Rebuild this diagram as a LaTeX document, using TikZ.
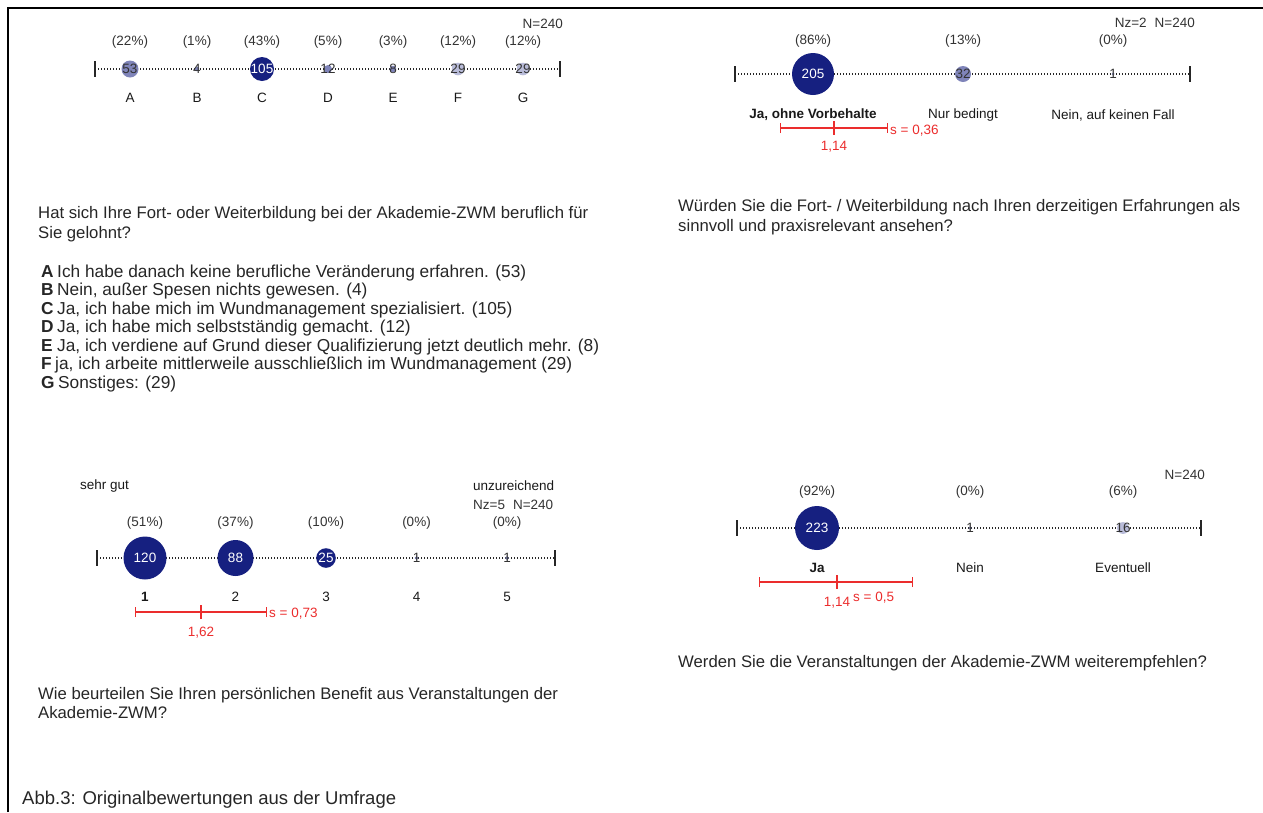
\documentclass[tikz,border=0pt]{standalone}
\usepackage{fontspec}
\setmainfont{Liberation Sans}
\usetikzlibrary{arrows.meta}
\definecolor{dotblue}{RGB}{22,32,128}
\definecolor{sdred}{RGB}{235,45,45}
\tikzset{
  chart/.style={font=\fontsize{13.5}{16}\selectfont,text=black!80,inner sep=0pt},
  catlabel/.style={chart,text=black!90},
  scaleaxis/.style={draw=black!85,line width=1.3pt,dash pattern=on 1.4pt off 1.6pt},
  axistick/.style={draw=black!85,line width=1.8pt},
  bigdot/.style={fill=dotblue},
  smalldot/.style={fill=dotblue!55},
  faintdot/.style={fill=dotblue!30},
  numw/.style={chart,text=white},
  numk/.style={chart,text=black!80},
  sdbar/.style={draw=sdred,line width=1.2pt,{Bar[width=10pt]}-{Bar[width=10pt]}},
  sdtext/.style={chart,text=sdred},
  txt/.style={font=\fontsize{16.7}{20}\selectfont,anchor=base west,inner sep=0pt,text=black!85},
  listtxt/.style={txt,font=\fontsize{17.3}{20}\selectfont}
}
\begin{document}
\begin{tikzpicture}[x=1pt,y=-1pt]
\useasboundingbox (0,0) rectangle (1263,812);
\draw[line width=2pt](8,812)--(8,8)--(1263,8);

% Frage: beruflich gelohnt
\coordinate (tlL) at (95,69);
\coordinate (tlR) at (560,69);
\draw[scaleaxis](tlL)--(tlR);
\draw[axistick]([yshift=8pt]tlL)--([yshift=-8pt]tlL);
\draw[axistick]([yshift=8pt]tlR)--([yshift=-8pt]tlR);
\fill[smalldot](130,69)circle[radius=8.5];
\fill[smalldot](197,69)circle[radius=2.3];
\fill[bigdot](262,69)circle[radius=12];
\fill[smalldot](328,69)circle[radius=4];
\fill[smalldot](393,69)circle[radius=3.3];
\fill[faintdot](458,69)circle[radius=6.3];
\fill[faintdot](523,69)circle[radius=6.3];
\node[numk](tlA)at(130,69){53};
\node[numk](tlB)at(197,69){4};
\node[numw](tlC)at(262,69){105};
\node[numk](tlD)at(328,69){12};
\node[numk](tlE)at(393,69){8};
\node[numk](tlF)at(458,69){29};
\node[numk](tlG)at(523,69){29};
\node[chart](tlpA)at(130,42){(22\%)};
\node[chart](tlpB)at(197,42){(1\%)};
\node[chart](tlpC)at(262,42){(43\%)};
\node[chart](tlpD)at(328,42){(5\%)};
\node[chart](tlpE)at(393,42){(3\%)};
\node[chart](tlpF)at(458,42){(12\%)};
\node[chart](tlpG)at(523,42){(12\%)};
\node[catlabel](tllA)at(130,98){A};
\node[catlabel](tllB)at(197,98){B};
\node[catlabel](tllC)at(262,98){C};
\node[catlabel](tllD)at(328,98){D};
\node[catlabel](tllE)at(393,98){E};
\node[catlabel](tllF)at(458,98){F};
\node[catlabel](tllG)at(523,98){G};
\node[chart,anchor=east](tlN)at(563,24){N=240};
\node[txt](tlq1)at(38,218){Hat sich Ihre Fort- oder Weiterbildung bei der Akademie-ZWM beruflich für};
\node[txt](tlq2)at(38,238){Sie gelohnt?};
\node[listtxt](tlia)at(41,277){\makebox[16pt][l]{\textbf{A}}Ich habe danach keine berufliche Veränderung erfahren. (53)};
\node[listtxt](tlib)at(41,295.5){\makebox[16pt][l]{\textbf{B}}Nein, außer Spesen nichts gewesen. (4)};
\node[listtxt](tlic)at(41,314){\makebox[16pt][l]{\textbf{C}}Ja, ich habe mich im Wundmanagement spezialisiert. (105)};
\node[listtxt](tlid)at(41,332.5){\makebox[16pt][l]{\textbf{D}}Ja, ich habe mich selbstständig gemacht. (12)};
\node[listtxt](tlie)at(41,351){\makebox[16pt][l]{\textbf{E}}Ja, ich verdiene auf Grund dieser Qualifizierung jetzt deutlich mehr. (8)};
\node[listtxt](tlif)at(41,369.5){\makebox[14pt][l]{\textbf{F}}ja, ich arbeite mittlerweile ausschließlich im Wundmanagement (29)};
\node[listtxt](tlig)at(41,388){\makebox[17pt][l]{\textbf{G}}Sonstiges: (29)};

% Frage: sinnvoll und praxisrelevant
\coordinate (trL) at (735,74);
\coordinate (trR) at (1190,74);
\draw[scaleaxis](trL)--(trR);
\draw[axistick]([yshift=8pt]trL)--([yshift=-8pt]trL);
\draw[axistick]([yshift=8pt]trR)--([yshift=-8pt]trR);
\fill[bigdot](813,74)circle[radius=21];
\fill[smalldot](963,74)circle[radius=8];
\fill[smalldot](1113,74)circle[radius=1.5];
\node[numw](trA)at(813,74){205};
\node[numk](trB)at(963,74){32};
\node[numk](trC)at(1113,74){1};
\node[chart](trpA)at(813,41){(86\%)};
\node[chart](trpB)at(963,41){(13\%)};
\node[chart](trpC)at(1113,41){(0\%)};
\node[catlabel,font=\fontsize{13.5}{16}\selectfont\bfseries](trlA)at(813,115){Ja, ohne Vorbehalte};
\node[catlabel](trlB)at(963,115){Nur bedingt};
\node[catlabel](trlC)at(1113,115){Nein, auf keinen Fall};
\node[chart,anchor=east](trN)at(1195,23){Nz=2\hspace{8pt}N=240};
\coordinate (trs0) at (780,128);
\coordinate (trs1) at (888,128);
\draw[sdbar](trs0)--(trs1);
\draw[sdred,line width=1.2pt](834,121)--(834,135);
\node[sdtext,anchor=west](trS)at(890,131){s = 0,36};
\node[sdtext](trM)at(834,147){1,14};
\node[txt](trq1)at(678,211){Würden Sie die Fort- / Weiterbildung nach Ihren derzeitigen Erfahrungen als};
\node[txt](trq2)at(678,231){sinnvoll und praxisrelevant ansehen?};

% Frage: persoenlicher Benefit
\coordinate (blL) at (97,558);
\coordinate (blR) at (555,558);
\draw[scaleaxis](blL)--(blR);
\draw[axistick]([yshift=8pt]blL)--([yshift=-8pt]blL);
\draw[axistick]([yshift=8pt]blR)--([yshift=-8pt]blR);
\fill[bigdot](145,558)circle[radius=21.5];
\fill[bigdot](235.5,558)circle[radius=18];
\fill[bigdot](326,558)circle[radius=9.8];
\fill[smalldot](416.5,558)circle[radius=1.8];
\fill[smalldot](507,558)circle[radius=1.8];
\node[numw](blA)at(145,558){120};
\node[numw](blB)at(235.5,558){88};
\node[numw](blC)at(326,558){25};
\node[numk](blD)at(416.5,558){1};
\node[numk](blE)at(507,558){1};
\node[chart](blpA)at(145,523){(51\%)};
\node[chart](blpB)at(235.5,523){(37\%)};
\node[chart](blpC)at(326,523){(10\%)};
\node[chart](blpD)at(416.5,523){(0\%)};
\node[chart](blpE)at(507,523){(0\%)};
\node[catlabel,font=\fontsize{13.5}{16}\selectfont\bfseries](bllA)at(145,597){1};
\node[catlabel](bllB)at(235.5,597){2};
\node[catlabel](bllC)at(326,597){3};
\node[catlabel](bllD)at(416.5,597){4};
\node[catlabel](bllE)at(507,597){5};
\node[catlabel,anchor=west](blgood)at(80,486){sehr gut};
\node[catlabel,anchor=west](blbad)at(473,486){unzureichend};
\node[chart,anchor=west](blN)at(473,505){Nz=5\hspace{8pt}N=240};
\coordinate (bls0) at (135,612);
\coordinate (bls1) at (267,612);
\draw[sdbar](bls0)--(bls1);
\draw[sdred,line width=1.2pt](201,605)--(201,619);
\node[sdtext,anchor=west](blS)at(269,614){s = 0,73};
\node[sdtext](blM)at(201,633){1,62};
\node[txt](blq1)at(38,699){Wie beurteilen Sie Ihren persönlichen Benefit aus Veranstaltungen der};
\node[txt](blq2)at(38,718){Akademie-ZWM?};

% Frage: weiterempfehlen
\coordinate (brL) at (737,528);
\coordinate (brR) at (1201,528);
\draw[scaleaxis](brL)--(brR);
\draw[axistick]([yshift=8pt]brL)--([yshift=-8pt]brL);
\draw[axistick]([yshift=8pt]brR)--([yshift=-8pt]brR);
\fill[bigdot](817,528)circle[radius=22];
\fill[smalldot](970,528)circle[radius=1.5];
\fill[faintdot](1123,528)circle[radius=5.9];
\node[numw](brA)at(817,528){223};
\node[numk](brB)at(970,528){1};
\node[numk](brC)at(1123,528){16};
\node[chart](brpA)at(817,492){(92\%)};
\node[chart](brpB)at(970,492){(0\%)};
\node[chart](brpC)at(1123,492){(6\%)};
\node[catlabel,font=\fontsize{13.5}{16}\selectfont\bfseries](brlA)at(817,568){Ja};
\node[catlabel](brlB)at(970,568){Nein};
\node[catlabel](brlC)at(1123,568){Eventuell};
\node[chart,anchor=east](brN)at(1205,475){N=240};
\coordinate (brs0) at (759,582);
\coordinate (brs1) at (913,582);
\draw[sdbar](brs0)--(brs1);
\draw[sdred,line width=1.2pt](837,575)--(837,589);
\node[sdtext](brM)at(837,603){1,14};
\node[sdtext,anchor=west](brS)at(853,598){s = 0,5};
\node[txt](brq1)at(678,667){Werden Sie die Veranstaltungen der Akademie-ZWM weiterempfehlen?};

\node[txt,font=\fontsize{18.5}{22}\selectfont](cap)at(22,804){Abb.3: Originalbewertungen aus der Umfrage};
\end{tikzpicture}
\end{document}
